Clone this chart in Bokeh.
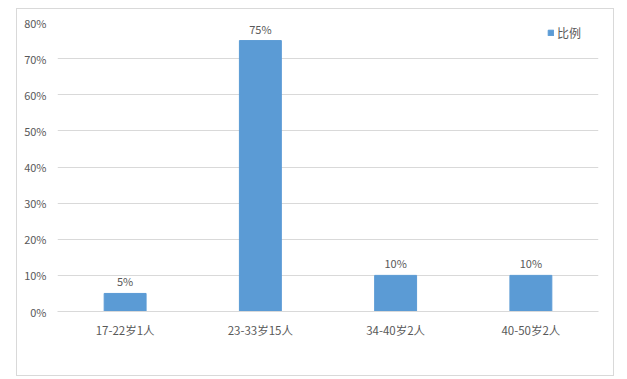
from bokeh.plotting import figure
from bokeh.models import ColumnDataSource, FixedTicker, NumeralTickFormatter, Legend, LegendItem, Spacer
from bokeh.layouts import row, column
from bokeh.core.properties import value
from bokeh.embed import file_html
from bokeh.resources import INLINE

categories = ["17-22岁1人", "23-33岁15人", "34-40岁2人", "40-50岁2人"]
ratios = [0.05, 0.75, 0.10, 0.10]
bar_labels = ["5%", "75%", "10%", "10%"]
y_ticks = [0, 0.1, 0.2, 0.3, 0.4, 0.5, 0.6, 0.7, 0.8]
series_name = "比例"

FONT = "Noto Sans CJK SC"
TXT = "#595959"
BAR = "#5B9BD5"

src = ColumnDataSource(dict(cat=categories, val=ratios, lab=bar_labels))

p = figure(x_range=categories, y_range=(0, 0.8), width=598, height=368,
           output_backend="svg", toolbar_location=None,
           min_border_left=40, min_border_right=17, min_border_top=13, min_border_bottom=66)
p.styles = {"border": "1px solid #d9d9d9", "box-sizing": "border-box"}
p.outline_line_color = None
p.background_fill_color = "white"
p.border_fill_color = "white"

r = p.vbar(x="cat", top="val", width=0.31, source=src, fill_color=BAR, line_color=BAR)
p.text(x="cat", y="val", text="lab", source=src, text_align="center", text_baseline="bottom",
       y_offset=-4, text_font=value(FONT), text_font_size="11px", text_color=TXT)

p.xgrid.grid_line_color = None
p.ygrid.grid_line_color = "#d9d9d9"
p.ygrid.ticker = FixedTicker(ticks=y_ticks)

p.yaxis.ticker = FixedTicker(ticks=y_ticks)
p.yaxis.formatter = NumeralTickFormatter(format="0%")
p.yaxis.axis_line_color = None
p.yaxis.major_tick_line_color = None
p.yaxis.minor_tick_line_color = None
p.yaxis.major_label_text_font = FONT
p.yaxis.major_label_text_font_size = "11px"
p.yaxis.major_label_text_color = TXT
p.yaxis.major_label_standoff = 5

p.xaxis.axis_line_color = "#d9d9d9"
p.xaxis.major_tick_line_color = None
p.xaxis.minor_tick_line_color = None
p.xaxis.major_label_text_font = FONT
p.xaxis.major_label_text_font_size = "11.5px"
p.xaxis.major_label_text_color = TXT
p.xaxis.major_label_standoff = 4

legend = Legend(items=[LegendItem(label=series_name, renderers=[r])], location=(490, 270),
                border_line_color=None, background_fill_alpha=0, padding=0, margin=0,
                glyph_width=7, glyph_height=7, label_text_font=FONT, label_text_font_size="12px",
                label_text_color=TXT, label_standoff=3, label_height=14)
p.add_layout(legend, "center")

layout = column(Spacer(height=8), row(Spacer(width=16), p))
open("out.html", "w").write(file_html(layout, INLINE))
